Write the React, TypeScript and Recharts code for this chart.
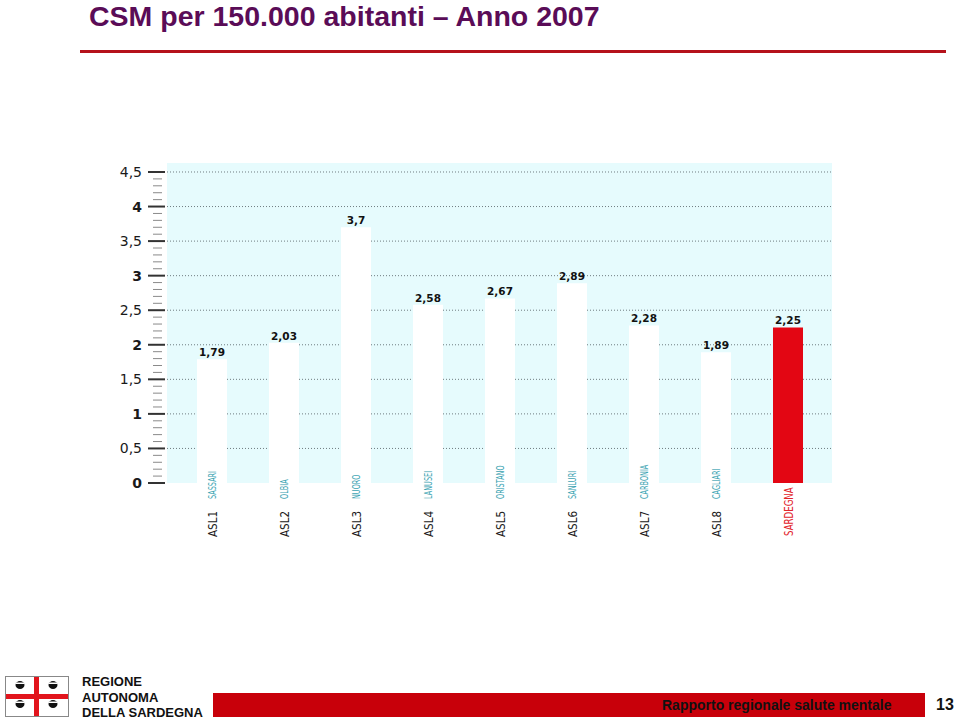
import React from "react";
import {
    BarChart,
    Bar,
    XAxis,
    YAxis,
    CartesianGrid,
    Cell,
    LabelList,
} from "recharts";

// ASL codes and area names shown under each bar
const codes = ["ASL1", "ASL2", "ASL3", "ASL4", "ASL5", "ASL6", "ASL7", "ASL8", ""];
const areas = [
    "SASSARI",
    "OLBIA",
    "NUORO",
    "LANUSEI",
    "ORISTANO",
    "SANLURI",
    "CARBONIA",
    "CAGLIARI",
    "SARDEGNA",
];
// CSM per 150.000 abitanti
const csmValues = [1.79, 2.03, 3.7, 2.58, 2.67, 2.89, 2.28, 1.89, 2.25];
const majorTicks = [0, 0.5, 1, 1.5, 2, 2.5, 3, 3.5, 4, 4.5];
const gridValues = [0.5, 1, 1.5, 2, 2.5, 3, 3.5, 4, 4.5];

const data = areas.map((area, i) => ({ area, code: codes[i], value: csmValues[i] }));

// minor ticks every 0.1 between the labelled ones
const allTicks = majorTicks.flatMap((t, i) =>
    i === majorTicks.length - 1
        ? [t]
        : [t, t + 0.1, t + 0.2, t + 0.3, t + 0.4].map((v) => Math.round(v * 10) / 10)
);

const TEAL = "#3aa3b2";
const BAR_RED = "#e30613";

const fmt = (v: number) => String(v).replace(".", ",");

function YTick(props: any) {
    const { x, y, payload } = props;
    const v = payload.value as number;
    const isMajor = Math.abs(v * 2 - Math.round(v * 2)) < 1e-6;
    const isInt = Math.abs(v - Math.round(v)) < 1e-6;
    if (!isMajor) {
        return <line x1={x - 14} x2={x - 5} y1={y} y2={y} stroke="#8a8a8a" strokeWidth={1} />;
    }
    return (
        <g>
            <line x1={x - 19} x2={x - 2} y1={y} y2={y} stroke="#333" strokeWidth={2} />
            <text
                x={x - 25}
                y={y}
                dy={5}
                textAnchor="end"
                fontFamily="DejaVu Sans, Verdana, sans-serif"
                fontSize={14}
                fontWeight={isInt ? "bold" : "normal"}
                fill="#1a1a1a"
            >
                {fmt(v)}
            </text>
        </g>
    );
}

function XTick(props: any) {
    const { x, y, index } = props;
    const code = codes[index];
    const area = areas[index];
    if (!code) {
        return (
            <text
                transform={`translate(${x + 4.5},${y + 53}) rotate(-90) scale(0.8,1)`}
                fontFamily="DejaVu Sans Condensed, sans-serif"
                fontSize={12}
                fill="#e2242b"
            >
                {area}
            </text>
        );
    }
    return (
        <g>
            <text
                transform={`translate(${x + 4.5},${y + 54}) rotate(-90)`}
                fontFamily="DejaVu Sans Condensed, sans-serif"
                fontSize={11.5}
                fill="#1a1a1a"
            >
                {code}
            </text>
            <text
                transform={`translate(${x + 4},${y + 16}) rotate(-90) scale(0.66,1)`}
                fontFamily="Liberation Sans Narrow, DejaVu Sans Condensed, sans-serif"
                fontSize={11}
                fill={TEAL}
            >
                {area}
            </text>
        </g>
    );
}

function Flag() {
    const heads = [
        [20, 685],
        [53, 685],
        [20, 704],
        [53, 704],
    ];
    return (
        <svg
            width={80}
            height={50}
            viewBox="0 670 80 50"
            style={{ position: "absolute", left: 0, top: 670 }}
        >
            <rect x={5.5} y={676.5} width={63} height={40} fill="#fff" stroke="#888" />
            <rect x={34} y={677} width={5} height={39} fill="#e2141c" />
            <rect x={6} y={694} width={62} height={5} fill="#e2141c" />
            {heads.map(([cx, cy], i) => (
                <g key={i}>
                    <ellipse cx={cx} cy={cy} rx={4.5} ry={4} fill="#111" />
                    <rect x={cx - 4.5} y={cy - 2.5} width={9} height={1.5} fill="#fff" />
                </g>
            ))}
        </svg>
    );
}

export default function App() {
    return (
        <div
            style={{
                position: "absolute",
                left: 0,
                top: 0,
                width: 960,
                height: 722,
                background: "#fff",
                overflow: "hidden",
                fontFamily: "Liberation Sans, Arial, sans-serif",
            }}
        >
            <div
                style={{
                    position: "absolute",
                    left: 89,
                    top: 0,
                    fontSize: 28.5,
                    lineHeight: "32px",
                    fontWeight: "bold",
                    color: "#5a0c57",
                    whiteSpace: "nowrap",
                }}
            >
                CSM per 150.000 abitanti – Anno 2007
            </div>
            <div
                style={{
                    position: "absolute",
                    left: 80,
                    top: 50,
                    width: 866,
                    height: 3,
                    background: "#b5121b",
                }}
            />

            <div style={{ position: "absolute", left: 0, top: 0 }}>
                <BarChart
                    width={960}
                    height={722}
                    data={data}
                    margin={{ top: 163, right: 128, bottom: 209, left: 107 }}
                >
                    <CartesianGrid
                        fill="#e6fbfd"
                        fillOpacity={1}
                        vertical={false}
                        horizontalValues={gridValues}
                        syncWithTicks={false}
                        stroke="#6f7c80"
                        strokeDasharray="1 2"
                    />
                    <XAxis
                        dataKey="area"
                        height={30}
                        axisLine={false}
                        tickLine={false}
                        tickSize={0}
                        tickMargin={0}
                        interval={0}
                        padding={{ left: 9, right: 8 }}
                        tick={<XTick />}
                    />
                    <YAxis
                        width={60}
                        domain={[0, 4.63]}
                        ticks={allTicks}
                        interval={0}
                        allowDataOverflow
                        axisLine={false}
                        tickLine={false}
                        tickSize={0}
                        tickMargin={0}
                        tick={<YTick />}
                    />
                    <Bar dataKey="value" barSize={30} isAnimationActive={false}>
                        {data.map((d, i) => (
                            <Cell key={i} fill={d.code ? "#ffffff" : BAR_RED} />
                        ))}
                        <LabelList
                            dataKey="value"
                            position="top"
                            offset={3}
                            formatter={(v: any) => fmt(v)}
                            style={{
                                fontFamily: "DejaVu Sans, Verdana, sans-serif",
                                fontSize: 10.5,
                                fontWeight: "bold",
                                fill: "#111",
                            }}
                        />
                    </Bar>
                </BarChart>
            </div>

            <Flag />
            <div
                style={{
                    position: "absolute",
                    left: 82,
                    top: 674,
                    fontSize: 13,
                    fontWeight: "bold",
                    lineHeight: "15.5px",
                    color: "#111",
                }}
            >
                REGIONE
                <br />
                AUTONOMA
                <br />
                DELLA SARDEGNA
            </div>
            <div
                style={{
                    position: "absolute",
                    left: 213,
                    top: 693,
                    width: 712,
                    height: 24,
                    background: "#c8000a",
                }}
            />
            <div
                style={{
                    position: "absolute",
                    left: 662,
                    top: 697,
                    fontSize: 14,
                    fontWeight: "bold",
                    color: "#111",
                    whiteSpace: "nowrap",
                }}
            >
                Rapporto regionale salute mentale
            </div>
            <div
                style={{
                    position: "absolute",
                    left: 936,
                    top: 696,
                    fontSize: 16,
                    fontWeight: "bold",
                    color: "#111",
                }}
            >
                13
            </div>
        </div>
    );
}
